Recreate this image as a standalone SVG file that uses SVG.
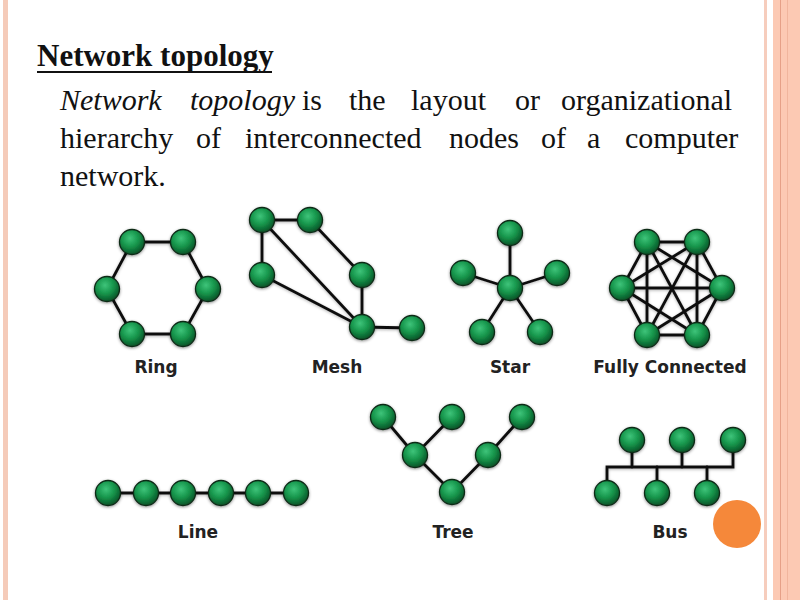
<svg xmlns="http://www.w3.org/2000/svg" width="800" height="600" viewBox="0 0 800 600">
<defs>
<radialGradient id="gn" cx="42%" cy="35%" r="62%">
<stop offset="0" stop-color="#3ec47a"/>
<stop offset="0.55" stop-color="#16954b"/>
<stop offset="1" stop-color="#0a5a2b"/>
</radialGradient>
<filter id="sh" x="-50%" y="-50%" width="200%" height="200%">
<feDropShadow dx="0" dy="1" stdDeviation="1.8" flood-color="#000" flood-opacity="0.45"/>
</filter>
<filter id="lsh" x="-20%" y="-20%" width="140%" height="140%">
<feDropShadow dx="0" dy="1" stdDeviation="1.5" flood-color="#000" flood-opacity="0.3"/>
</filter>
</defs>
<style>
.n{fill:url(#gn);stroke:#0c2a17;stroke-width:1.3;filter:url(#sh)}
.e{stroke:#111;stroke-width:2.8;fill:none;stroke-linecap:round}
.lbl{font-family:"DejaVu Sans",Verdana,sans-serif;font-weight:bold;font-size:17px;fill:#222;text-anchor:middle}
.body{font-family:"Liberation Serif","Times New Roman",serif;font-size:30px;fill:#111}
</style>
<rect width="800" height="600" fill="#fff"/>
<g id="borders">
<rect x="3" y="0" width="5" height="600" fill="#f5cbb9"/>
<rect x="764" y="0" width="3" height="600" fill="#f6cdbd"/>
<rect x="773" y="0" width="27" height="600" fill="#fcc9b3"/>
<rect x="780" y="0" width="1" height="600" fill="#e6a087"/>
<rect x="787" y="0" width="1" height="600" fill="#f0b59d"/>
</g>
<g id="title">
<text x="37" y="66" font-family="'Liberation Serif','Times New Roman',serif" font-weight="bold" font-size="31" fill="#111">Network topology</text>
<rect x="37" y="71" width="235" height="2" fill="#111"/>
</g>
<g id="description" class="body">
<text y="110"><tspan x="60" font-style="italic">Network</tspan><tspan x="190" font-style="italic">topology</tspan><tspan x="302">is</tspan><tspan x="349">the</tspan><tspan x="411">layout</tspan><tspan x="515">or</tspan><tspan x="561">organizational</tspan></text>
<text y="148"><tspan x="60">hierarchy</tspan><tspan x="196">of</tspan><tspan x="245">interconnected</tspan><tspan x="449">nodes</tspan><tspan x="541">of</tspan><tspan x="587">a</tspan><tspan x="625">computer</tspan></text>
<text y="186"><tspan x="60">network.</tspan></text>
</g>
<g id="connectors" filter="url(#lsh)">
<!-- ring -->
<polygon class="e" points="132,242 183,242 208,289 183,334 132,334 107,289"/>
<!-- mesh -->
<line class="e" x1="262" y1="220" x2="310" y2="220"/>
<line class="e" x1="262" y1="220" x2="262" y2="275"/>
<line class="e" x1="262" y1="220" x2="362" y2="327"/>
<line class="e" x1="262" y1="275" x2="362" y2="327"/>
<line class="e" x1="310" y1="220" x2="362" y2="275"/>
<line class="e" x1="362" y1="275" x2="362" y2="327"/>
<line class="e" x1="362" y1="327" x2="412" y2="328"/>
<!-- star -->
<line class="e" x1="510" y1="288" x2="510" y2="233"/>
<line class="e" x1="510" y1="288" x2="463" y2="273"/>
<line class="e" x1="510" y1="288" x2="557" y2="273"/>
<line class="e" x1="510" y1="288" x2="482" y2="332"/>
<line class="e" x1="510" y1="288" x2="540" y2="332"/>
<!-- fully connected -->
<g stroke-width="2.4">
<line class="e" x1="647" y1="242" x2="697" y2="242"/>
<line class="e" x1="647" y1="242" x2="622" y2="288"/>
<line class="e" x1="647" y1="242" x2="722" y2="288"/>
<line class="e" x1="647" y1="242" x2="647" y2="335"/>
<line class="e" x1="647" y1="242" x2="697" y2="335"/>
<line class="e" x1="697" y1="242" x2="622" y2="288"/>
<line class="e" x1="697" y1="242" x2="722" y2="288"/>
<line class="e" x1="697" y1="242" x2="647" y2="335"/>
<line class="e" x1="697" y1="242" x2="697" y2="335"/>
<line class="e" x1="622" y1="288" x2="722" y2="288"/>
<line class="e" x1="622" y1="288" x2="647" y2="335"/>
<line class="e" x1="622" y1="288" x2="697" y2="335"/>
<line class="e" x1="722" y1="288" x2="647" y2="335"/>
<line class="e" x1="722" y1="288" x2="697" y2="335"/>
<line class="e" x1="647" y1="335" x2="697" y2="335"/>
</g>
<!-- line -->
<line class="e" x1="108" y1="493" x2="296" y2="493"/>
<!-- tree -->
<polyline class="e" points="383,417 415,455 452,492 488,455 522,417"/>
<line class="e" x1="452" y1="417" x2="415" y2="455"/>
<!-- bus -->
<polyline class="e" points="607,493 607,467 733,467 733,440"/>
<line class="e" x1="632" y1="440" x2="632" y2="467"/>
<line class="e" x1="682" y1="440" x2="682" y2="467"/>
<line class="e" x1="657" y1="467" x2="657" y2="493"/>
<line class="e" x1="707" y1="467" x2="707" y2="493"/>
</g>
<g id="ring">
<g id="ring-n1"><circle class="n" cx="132" cy="242" r="12.5"/></g>
<g id="ring-n2"><circle class="n" cx="183" cy="242" r="12.5"/></g>
<g id="ring-n3"><circle class="n" cx="107" cy="289" r="12.5"/></g>
<g id="ring-n4"><circle class="n" cx="208" cy="289" r="12.5"/></g>
<g id="ring-n5"><circle class="n" cx="132" cy="334" r="12.5"/></g>
<g id="ring-n6"><circle class="n" cx="183" cy="334" r="12.5"/></g>
<text class="lbl" x="156" y="373">Ring</text>
</g>
<g id="mesh">
<g id="mesh-n1"><circle class="n" cx="262" cy="220" r="12.5"/></g>
<g id="mesh-n2"><circle class="n" cx="310" cy="220" r="12.5"/></g>
<g id="mesh-n3"><circle class="n" cx="262" cy="275" r="12.5"/></g>
<g id="mesh-n4"><circle class="n" cx="362" cy="275" r="12.5"/></g>
<g id="mesh-n5"><circle class="n" cx="362" cy="327" r="12.5"/></g>
<g id="mesh-n6"><circle class="n" cx="412" cy="328" r="12.5"/></g>
<text class="lbl" x="337" y="373">Mesh</text>
</g>
<g id="star">
<g id="star-hub"><circle class="n" cx="510" cy="288" r="12.5"/></g>
<g id="star-n1"><circle class="n" cx="510" cy="233" r="12.5"/></g>
<g id="star-n2"><circle class="n" cx="463" cy="273" r="12.5"/></g>
<g id="star-n3"><circle class="n" cx="557" cy="273" r="12.5"/></g>
<g id="star-n4"><circle class="n" cx="482" cy="332" r="12.5"/></g>
<g id="star-n5"><circle class="n" cx="540" cy="332" r="12.5"/></g>
<text class="lbl" x="510" y="373">Star</text>
</g>
<g id="full">
<g id="full-n1"><circle class="n" cx="647" cy="242" r="12.5"/></g>
<g id="full-n2"><circle class="n" cx="697" cy="242" r="12.5"/></g>
<g id="full-n3"><circle class="n" cx="622" cy="288" r="12.5"/></g>
<g id="full-n4"><circle class="n" cx="722" cy="288" r="12.5"/></g>
<g id="full-n5"><circle class="n" cx="647" cy="335" r="12.5"/></g>
<g id="full-n6"><circle class="n" cx="697" cy="335" r="12.5"/></g>
<text class="lbl" x="670" y="373">Fully Connected</text>
</g>
<g id="line">
<g id="line-n1"><circle class="n" cx="108" cy="493" r="12.5"/></g>
<g id="line-n2"><circle class="n" cx="146" cy="493" r="12.5"/></g>
<g id="line-n3"><circle class="n" cx="183" cy="493" r="12.5"/></g>
<g id="line-n4"><circle class="n" cx="221" cy="493" r="12.5"/></g>
<g id="line-n5"><circle class="n" cx="258" cy="493" r="12.5"/></g>
<g id="line-n6"><circle class="n" cx="296" cy="493" r="12.5"/></g>
<text class="lbl" x="198" y="538">Line</text>
</g>
<g id="tree">
<g id="tree-n1"><circle class="n" cx="383" cy="417" r="12.5"/></g>
<g id="tree-n2"><circle class="n" cx="452" cy="417" r="12.5"/></g>
<g id="tree-n3"><circle class="n" cx="522" cy="417" r="12.5"/></g>
<g id="tree-n4"><circle class="n" cx="415" cy="455" r="12.5"/></g>
<g id="tree-n5"><circle class="n" cx="488" cy="455" r="12.5"/></g>
<g id="tree-n6"><circle class="n" cx="452" cy="492" r="12.5"/></g>
<text class="lbl" x="453" y="538">Tree</text>
</g>
<g id="bus">
<g id="bus-n1"><circle class="n" cx="632" cy="440" r="12.5"/></g>
<g id="bus-n2"><circle class="n" cx="682" cy="440" r="12.5"/></g>
<g id="bus-n3"><circle class="n" cx="733" cy="440" r="12.5"/></g>
<g id="bus-n4"><circle class="n" cx="607" cy="493" r="12.5"/></g>
<g id="bus-n5"><circle class="n" cx="657" cy="493" r="12.5"/></g>
<g id="bus-n6"><circle class="n" cx="707" cy="493" r="12.5"/></g>
<text class="lbl" x="670" y="538">Bus</text>
</g>
<circle id="orange-dot" cx="737" cy="524" r="24" fill="#f5883a"/>
</svg>
